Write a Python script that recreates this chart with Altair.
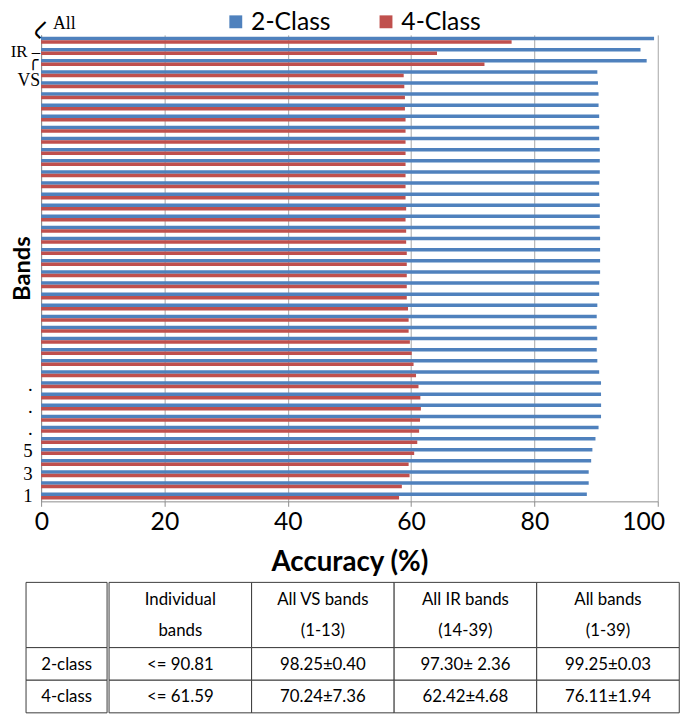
import altair as alt
import pandas as pd

# ---------------- data ----------------
bands = ["All", "IR", "VS"] + [str(i) for i in range(39, 0, -1)]

two_class = [99.4, 97.2, 98.2,
             90.2, 90.3, 90.4, 90.4, 90.5, 90.5, 90.5, 90.6, 90.6, 90.6, 90.5, 90.5,
             90.6, 90.6, 90.6, 90.65, 90.65, 90.65, 90.65, 90.5, 90.5, 90.2, 90.1, 90.1,
             90.2, 90.1, 90.2, 90.5, 90.8, 90.8, 90.81, 90.8, 90.4, 89.9, 89.4, 89.2,
             88.8, 88.8, 88.5]

four_class = [76.3, 64.2, 71.9,
              58.8, 58.9, 59.0, 59.0, 59.1, 59.1, 59.1, 59.1, 59.1, 59.1, 59.1, 59.1,
              59.2, 59.1, 59.2, 59.2, 59.3, 59.3, 59.3, 59.3, 59.3, 59.5, 59.6, 59.6,
              59.8, 60.1, 60.4, 60.8, 61.2, 61.5, 61.59, 61.45, 61.3, 61.0, 60.5, 59.6,
              59.75, 58.5, 58.05]

series = ["2-Class", "4-Class"]
colors = ["#4F81BD", "#C0504D"]
x_ticks = [0, 20, 40, 60, 80, 100]

# table
row_labels = ["", "2-class", "4-class"]
row_start = [0, 2, 3]
row_end = [2, 3, 4]
col_names = ["Individual bands", "All VS bands", "All IR bands", "All bands"]
header_cells = ["Individual\nbands", "All VS bands\n(1-13)", "All IR bands\n(14-39)", "All bands\n(1-39)"]
row_2class = ["<= 90.81", "98.25\u00b10.40", "97.30\u00b1 2.36", "99.25\u00b10.03"]
row_4class = ["<= 61.59", "70.24\u00b17.36", "62.42\u00b14.68", "76.11\u00b11.94"]

# ---------------- main chart ----------------
rows = []
for b, v2, v4 in zip(bands, two_class, four_class):
    rows.append({"band": b, "cls": series[0], "acc": v2})
    rows.append({"band": b, "cls": series[1], "acc": v4})
df = pd.DataFrame(rows)

label_expr = ("indexof(['1','3','5'], datum.value) >= 0 ? datum.value : "
              "(indexof(['7','9','11'], datum.value) >= 0 ? '.' : '')")

yenc = alt.Y("band:N", sort=bands,
             scale=alt.Scale(paddingInner=0.37, paddingOuter=0.17),
             axis=alt.Axis(title="Bands", labelExpr=label_expr, ticks=False,
                           labelFont="Liberation Serif", labelFontSize=19,
                           labelColor="black", labelPadding=9,
                           domainColor="#8C8C8C", titleFont="Lato",
                           titleFontSize=24, titleFontWeight="bold",
                           titleColor="black", titlePadding=-12))

bars = alt.Chart(df).mark_bar().encode(
    x=alt.X("acc:Q", scale=alt.Scale(domain=[0, 100], nice=False),
            axis=alt.Axis(title="Accuracy (%)", values=x_ticks, grid=True,
                          gridColor="#A6A6A6", domainColor="#8C8C8C",
                          tickColor="#8C8C8C", tickSize=5,
                          labelFont="Lato", labelFontSize=25, labelColor="black",
                          labelPadding=3, labelFlush=True, labelFlushOffset=7,
                          titleFont="Lato", titleFontSize=28,
                          titleFontWeight="bold", titleColor="black",
                          titlePadding=15)),
    y=yenc,
    yOffset=alt.YOffset("cls:N", sort=series),
    color=alt.Color("cls:N", sort=series,
                    scale=alt.Scale(domain=series, range=colors),
                    legend=alt.Legend(orient="none", legendX=200, legendY=-26,
                                      direction="horizontal", title=None,
                                      symbolType="square", symbolSize=170,
                                      symbolStrokeWidth=0,
                                      labelFont="Lato", labelFontSize=25,
                                      labelColor="black", columnPadding=43,
                                      padding=0, labelOffset=3)),
)

ann_df = pd.DataFrame({"band": ["All", "IR", "VS"]})


def ann(band, text, align, dx, dy, size=18, angle=0, font="Liberation Serif"):
    return alt.Chart(ann_df).transform_filter(
        alt.datum.band == band
    ).mark_text(text=text, align=align, dx=dx, dy=dy, fontSize=size,
                font=font, color="black", angle=angle, baseline="middle").encode(
        x=alt.datum(0),
        y=alt.Y("band:N", sort=bands),
    )


annots = [
    ann("All", "All", "left", 12, -16),
    ann("All", "\u2570", "center", -10, 0, size=26, angle=45, font="DejaVu Sans"),
    ann("IR", "IR \u2013", "right", -1, 1, size=17),
    ann("VS", "VS", "right", -1, 19),
    ann("VS", "\u256d", "center", -8, -1, size=18, font="DejaVu Sans"),
]

main = alt.layer(bars, *annots).properties(width=624, height=472)

# ---------------- table ----------------
t0 = pd.DataFrame({"col": ["c0"] * 3, "text": row_labels,
                   "y0": row_start, "y1": row_end})
trows = []
for i, c in enumerate(col_names):
    for txt, a, b in zip([header_cells[i], row_2class[i], row_4class[i]], row_start, row_end):
        trows.append({"col": c, "text": txt, "y0": a, "y1": b})
t1 = pd.DataFrame(trows)

yscale = alt.Scale(domain=[0, 4], reverse=True, nice=False, zero=False)


def table_part(data, cols, width, left_axis=False):
    xenc = alt.X("col:N", sort=cols, axis=None,
                 scale=alt.Scale(paddingInner=0, paddingOuter=0))
    yaxis = (alt.Axis(labels=False, ticks=False, domain=False, grid=False,
                      title=None, minExtent=10, maxExtent=10)
             if left_axis else None)
    base = alt.Chart(data).transform_calculate(ym="(datum.y0 + datum.y1) / 2")
    rect = base.mark_rect(fill="white", stroke="#3A3A3A", strokeWidth=1).encode(
        x=xenc,
        y=alt.Y("y0:Q", scale=yscale, axis=yaxis),
        y2="y1:Q",
    )
    head = base.transform_filter(alt.datum.y0 == 0).mark_text(
        font="Lato", fontSize=17, color="black", lineBreak="\n",
        lineHeight=31, baseline="middle", dy=-15).encode(
        x=xenc,
        y=alt.Y("ym:Q", scale=yscale),
        text="text:N",
    )
    body = base.transform_filter(alt.datum.y0 > 0).mark_text(
        font="Lato", fontSize=17, color="black", baseline="middle", dy=1).encode(
        x=xenc,
        y=alt.Y("ym:Q", scale=yscale),
        text="text:N",
    )
    return alt.layer(rect, head, body).properties(width=width, height=132)


table = alt.hconcat(table_part(t0, ["c0"], 82, left_axis=True),
                    table_part(t1, col_names, 577), spacing=0)

chart = alt.vconcat(main, table, spacing=5, center=True).properties(
    padding={"top": -3, "left": 2, "right": 0, "bottom": 0}
).configure_view(stroke=None)

chart.save("out.html", embed_options={"renderer": "svg", "actions": False})
